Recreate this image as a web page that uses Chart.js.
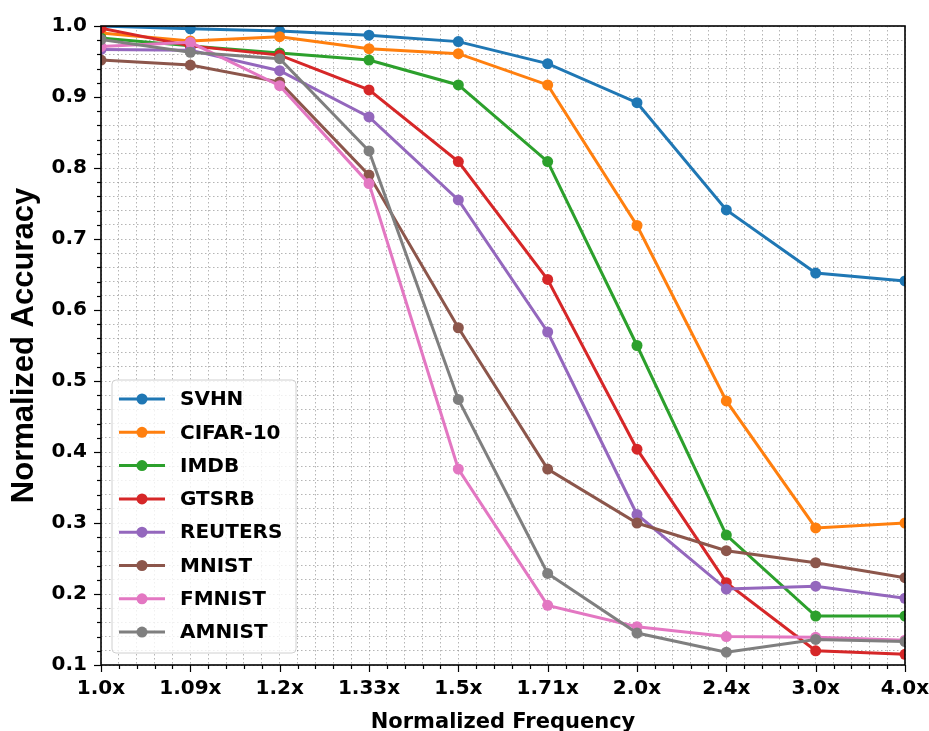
<!DOCTYPE html>
<html><head><meta charset="utf-8">
<script src="https://cdn.jsdelivr.net/npm/chart.js@4.4.0/dist/chart.umd.min.js"></script>
<style>html,body{margin:0;padding:0;background:#fff;overflow:hidden}#wrap{width:929px;height:731px;position:relative}</style>
</head><body><div id="wrap"><canvas id="c" width="929" height="731"></canvas></div>
<script>
// ---- data ----
const categories = ['1.0x','1.09x','1.2x','1.33x','1.5x','1.71x','2.0x','2.4x','3.0x','4.0x'];
const seriesNames = ['SVHN','CIFAR-10','IMDB','GTSRB','REUTERS','MNIST','FMNIST','AMNIST'];
const svhn    = [1.000, 0.996, 0.993, 0.987, 0.978, 0.947, 0.892, 0.741, 0.652, 0.641];
const cifar10 = [0.990, 0.979, 0.985, 0.968, 0.961, 0.917, 0.719, 0.472, 0.293, 0.300];
const imdb    = [0.983, 0.972, 0.962, 0.952, 0.917, 0.809, 0.550, 0.283, 0.169, 0.169];
const gtsrb   = [0.997, 0.972, 0.959, 0.910, 0.809, 0.643, 0.404, 0.216, 0.120, 0.115];
const reuters = [0.967, 0.966, 0.937, 0.872, 0.755, 0.569, 0.312, 0.207, 0.211, 0.194];
const mnist   = [0.952, 0.945, 0.921, 0.790, 0.575, 0.376, 0.300, 0.261, 0.244, 0.223];
const fmnist  = [0.971, 0.977, 0.916, 0.778, 0.376, 0.184, 0.154, 0.140, 0.139, 0.135];
const amnist  = [0.981, 0.963, 0.954, 0.824, 0.474, 0.229, 0.145, 0.118, 0.136, 0.133];
const yMin = 0.1, yMax = 1.0;
const yMajorStep = 0.1, yMinorDiv = 5;   // minor grid every 0.02
const xMinorDiv = 5;                      // 5 minor intervals between categories
const xTitle = 'Normalized Frequency';
const yTitle = 'Normalized Accuracy';

const colors = ['#1f77b4','#ff7f0e','#2ca02c','#d62728','#9467bd','#8c564b','#e377c2','#7f7f7f'];
const seriesList = [svhn, cifar10, imdb, gtsrb, reuters, mnist, fmnist, amnist];

const isMajorX = v => Math.abs(v - Math.round(v)) < 1e-6;
const isMajorY = v => Math.abs(v / yMajorStep - Math.round(v / yMajorStep)) < 1e-6;

const gridColor = 'rgba(120,120,120,0.55)';
const tickFont = {family:'DejaVu Sans', weight:'bold', size:20};

const datasets = seriesNames.map((name, i) => ({
  label: name,
  data: seriesList[i].map((v, j) => ({x: j, y: v})),
  borderColor: colors[i],
  backgroundColor: colors[i],
  borderWidth: 3,
  pointRadius: 5.5,
  pointHoverRadius: 5.5,
  pointBorderWidth: 0,
  tension: 0,
  clip: 0,
  order: seriesNames.length - i
}));

const framePlugin = {
  id: 'frame',
  afterDatasetsDraw(chart) {
    const {ctx, chartArea: a, scales} = chart;
    ctx.save();
    ctx.strokeStyle = '#000';
    ctx.lineWidth = 1.2;
    ctx.setLineDash([]);
    // tick marks
    scales.x.ticks.forEach(t => {
      const px = Math.round(scales.x.getPixelForValue(t.value)) + 0.5;
      const len = isMajorX(t.value) ? 7 : 4;
      ctx.beginPath(); ctx.moveTo(px, a.bottom); ctx.lineTo(px, a.bottom + len); ctx.stroke();
    });
    scales.y.ticks.forEach(t => {
      const py = Math.round(scales.y.getPixelForValue(t.value)) + 0.5;
      const len = isMajorY(t.value) ? 7 : 4;
      ctx.beginPath(); ctx.moveTo(a.left, py); ctx.lineTo(a.left - len, py); ctx.stroke();
    });
    ctx.lineWidth = 1.6;
    ctx.strokeRect(a.left, a.top, a.right - a.left, a.bottom - a.top);
    // legend
    const ds = chart.data.datasets;
    const bx = a.left + 11, bw = 184, rowH = 33.3, bh = 273;
    const by = a.bottom - 12 - bh;
    ctx.beginPath();
    if (ctx.roundRect) ctx.roundRect(bx, by, bw, bh, 4); else ctx.rect(bx, by, bw, bh);
    ctx.fillStyle = 'rgba(255,255,255,0.8)';
    ctx.fill();
    ctx.strokeStyle = '#d0d0d0';
    ctx.lineWidth = 1;
    ctx.stroke();
    ctx.font = 'bold 20px "DejaVu Sans"';
    ctx.textBaseline = 'middle';
    ctx.textAlign = 'left';
    ds.forEach((d, i) => {
      const cy = by + 19 + i * rowH;
      ctx.strokeStyle = d.borderColor;
      ctx.lineWidth = 3;
      ctx.beginPath(); ctx.moveTo(bx + 7, cy); ctx.lineTo(bx + 53, cy); ctx.stroke();
      ctx.fillStyle = d.backgroundColor;
      ctx.beginPath(); ctx.arc(bx + 30, cy, 5.5, 0, Math.PI * 2); ctx.fill();
      ctx.fillStyle = '#000';
      ctx.fillText(d.label, bx + 68, cy + 1);
    });
    ctx.restore();
  }
};

new Chart(document.getElementById('c'), {
  type: 'line',
  data: {datasets},
  plugins: [framePlugin],
  options: {
    responsive: false,
    animation: false,
    devicePixelRatio: 1,
    layout: {padding: {top: 22, right: 24, left: 0, bottom: -4}},
    plugins: {legend: {display: false}, tooltip: {enabled: false}},
    scales: {
      x: {
        type: 'linear',
        min: 0, max: categories.length - 1,
        afterFit: s => { s.height = 70; s.paddingLeft = 0; s.paddingRight = 0; },
        afterBuildTicks: s => {
          const n = (categories.length - 1) * xMinorDiv;
          s.ticks = Array.from({length: n + 1}, (_, k) => ({value: k / xMinorDiv}));
        },
        ticks: {
          autoSkip: false, maxRotation: 0, minRotation: 0, padding: 12,
          color: '#000', font: tickFont,
          callback: v => isMajorX(v) ? categories[Math.round(v)] : ''
        },
        grid: {color: gridColor, lineWidth: 1, drawTicks: false},
        border: {display: false, dash: [1.5, 2.5]},
        title: {display: true, text: xTitle, color: '#000',
          font: {family: 'DejaVu Sans', weight: 'bold', size: 21}, padding: {top: 0, bottom: 0}}
      },
      y: {
        type: 'linear',
        min: yMin, max: yMax,
        afterFit: s => { s.width = 101; },
        afterBuildTicks: s => {
          const k0 = Math.round(yMin / yMajorStep * yMinorDiv), k1 = Math.round(yMax / yMajorStep * yMinorDiv);
          const arr = [];
          for (let k = k0; k <= k1; k++) arr.push({value: k * yMajorStep / yMinorDiv});
          s.ticks = arr;
        },
        ticks: {
          autoSkip: false, padding: 14, color: '#000', font: tickFont,
          callback: v => isMajorY(v) ? v.toFixed(1) : ''
        },
        grid: {color: gridColor, lineWidth: 1, drawTicks: false},
        border: {display: false, dash: [1.5, 2.5]},
        title: {display: true, text: yTitle, color: '#000',
          font: {family: 'Liberation Sans', weight: 'bold', size: 31}, padding: {top: 6, bottom: 0}}
      }
    }
  }
});
</script>
</body></html>
